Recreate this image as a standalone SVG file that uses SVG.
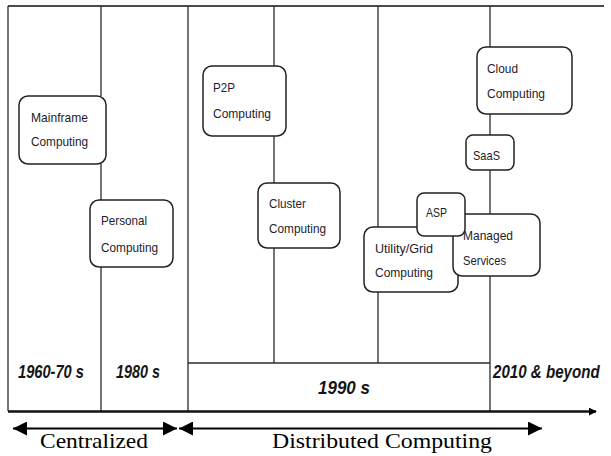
<svg xmlns="http://www.w3.org/2000/svg" width="611" height="456" viewBox="0 0 611 456">
  <style>
    .ln { stroke: #2b2b2b; stroke-width: 1.3; fill: none; }
    .frame { stroke: #4a4a4a; stroke-width: 2; fill: none; }
    .box { fill: #ffffff; stroke: #222; stroke-width: 1.5; }
    .lbl { font-family: "Liberation Sans", Arial, sans-serif; font-size: 13.5px; fill: #1c1c2c; }
    .era { font-family: "Liberation Sans", Arial, sans-serif; font-size: 18px; font-weight: bold; font-style: italic; fill: #151515; }
    .span { font-family: "Liberation Serif", "Times New Roman", serif; font-size: 22px; fill: #000; }
  </style>
  <defs>
    <marker id="tipSmall" viewBox="0 0 10 10" refX="9" refY="5" markerWidth="8" markerHeight="8" markerUnits="userSpaceOnUse" orient="auto">
      <path d="M0,0 L10,5 L0,10 Z" fill="#000"/>
    </marker>
    <marker id="tipBig" viewBox="0 0 10 10" refX="10" refY="5" markerWidth="15" markerHeight="14" markerUnits="userSpaceOnUse" orient="auto-start-reverse">
      <path d="M0,0 L10,5 L0,10 Z" fill="#000"/>
    </marker>
  </defs>

  <!-- timeline frame and column dividers -->
  <g id="connectors">
    <line class="frame" x1="8" y1="6" x2="604" y2="6"/>
    <line class="ln" x1="8" y1="6" x2="8" y2="411"/>
    <line class="ln" x1="101" y1="6" x2="101" y2="96"/>
    <line class="ln" x1="101" y1="164" x2="101" y2="200"/>
    <line class="ln" x1="101" y1="267" x2="101" y2="411"/>
    <line class="ln" x1="188" y1="6" x2="188" y2="411"/>
    <line class="ln" x1="274" y1="6" x2="274" y2="66"/>
    <line class="ln" x1="274" y1="136" x2="274" y2="183"/>
    <line class="ln" x1="274" y1="248" x2="274" y2="363"/>
    <line class="ln" x1="378" y1="6" x2="378" y2="227"/>
    <line class="ln" x1="378" y1="292" x2="378" y2="363"/>
    <line class="ln" x1="490" y1="6" x2="490" y2="47"/>
    <line class="ln" x1="490" y1="114" x2="490" y2="135"/>
    <line class="ln" x1="490" y1="170" x2="490" y2="214"/>
    <line class="ln" x1="490" y1="276" x2="490" y2="411"/>
    <line class="ln" x1="188" y1="363" x2="490" y2="363"/>
    <!-- time axis -->
    <line x1="8" y1="411.5" x2="596" y2="411.5" stroke="#111" stroke-width="2.4" marker-end="url(#tipSmall)"/>
    <!-- era spans -->
    <line x1="13" y1="428.5" x2="177" y2="428.5" stroke="#000" stroke-width="2.2" marker-start="url(#tipBig)" marker-end="url(#tipBig)"/>
    <line x1="179" y1="428.5" x2="542" y2="428.5" stroke="#000" stroke-width="2.2" marker-start="url(#tipBig)" marker-end="url(#tipBig)"/>
  </g>

  <g id="mainframe">
    <rect class="box" x="19" y="96" width="87" height="68" rx="9"/>
    <text class="lbl" x="31" y="122" textLength="57" lengthAdjust="spacingAndGlyphs">Mainframe</text>
    <text class="lbl" x="31" y="146" textLength="57" lengthAdjust="spacingAndGlyphs">Computing</text>
  </g>
  <g id="personal">
    <rect class="box" x="90" y="200" width="83" height="67" rx="9"/>
    <text class="lbl" x="101" y="225" textLength="46" lengthAdjust="spacingAndGlyphs">Personal</text>
    <text class="lbl" x="101" y="252" textLength="57" lengthAdjust="spacingAndGlyphs">Computing</text>
  </g>
  <g id="p2p">
    <rect class="box" x="203" y="66" width="83" height="70" rx="9"/>
    <text class="lbl" x="213" y="92" textLength="22" lengthAdjust="spacingAndGlyphs">P2P</text>
    <text class="lbl" x="213" y="118" textLength="58" lengthAdjust="spacingAndGlyphs">Computing</text>
  </g>
  <g id="cluster">
    <rect class="box" x="258" y="183" width="82" height="65" rx="9"/>
    <text class="lbl" x="269" y="208" textLength="37" lengthAdjust="spacingAndGlyphs">Cluster</text>
    <text class="lbl" x="269" y="233" textLength="57" lengthAdjust="spacingAndGlyphs">Computing</text>
  </g>
  <g id="utility-grid">
    <rect class="box" x="364" y="227" width="94" height="65" rx="9"/>
    <text class="lbl" x="375" y="253" textLength="58" lengthAdjust="spacingAndGlyphs">Utility/Grid</text>
    <text class="lbl" x="375" y="277" textLength="58" lengthAdjust="spacingAndGlyphs">Computing</text>
  </g>
  <g id="managed-services">
    <rect class="box" x="453" y="214" width="87" height="62" rx="9"/>
    <text class="lbl" x="463" y="240" textLength="50" lengthAdjust="spacingAndGlyphs">Managed</text>
    <text class="lbl" x="463" y="265" textLength="43" lengthAdjust="spacingAndGlyphs">Services</text>
  </g>
  <g id="asp">
    <rect class="box" x="417" y="193" width="48" height="43" rx="7"/>
    <text class="lbl" x="426" y="217" textLength="21" lengthAdjust="spacingAndGlyphs">ASP</text>
  </g>
  <g id="saas">
    <rect class="box" x="466" y="135" width="48" height="35" rx="7"/>
    <text class="lbl" x="473" y="160" textLength="27" lengthAdjust="spacingAndGlyphs">SaaS</text>
  </g>
  <g id="cloud">
    <rect class="box" x="477" y="47" width="95" height="67" rx="9"/>
    <text class="lbl" x="487" y="73" textLength="31" lengthAdjust="spacingAndGlyphs">Cloud</text>
    <text class="lbl" x="487" y="98" textLength="58" lengthAdjust="spacingAndGlyphs">Computing</text>
  </g>

  <!-- era labels -->
  <g id="eras">
    <text class="era" x="18" y="378" textLength="66" lengthAdjust="spacingAndGlyphs">1960-70 s</text>
    <text class="era" x="116" y="378" textLength="44" lengthAdjust="spacingAndGlyphs">1980 s</text>
    <text class="era" x="318" y="394" textLength="52" lengthAdjust="spacingAndGlyphs">1990 s</text>
    <text class="era" transform="translate(493 378) scale(0.84 1)">2010 &amp; beyond</text>
  </g>

  <g id="spans">
    <text class="span" x="40" y="448" textLength="108" lengthAdjust="spacingAndGlyphs">Centralized</text>
    <text class="span" x="272" y="448" textLength="220" lengthAdjust="spacingAndGlyphs">Distributed Computing</text>
  </g>
</svg>
